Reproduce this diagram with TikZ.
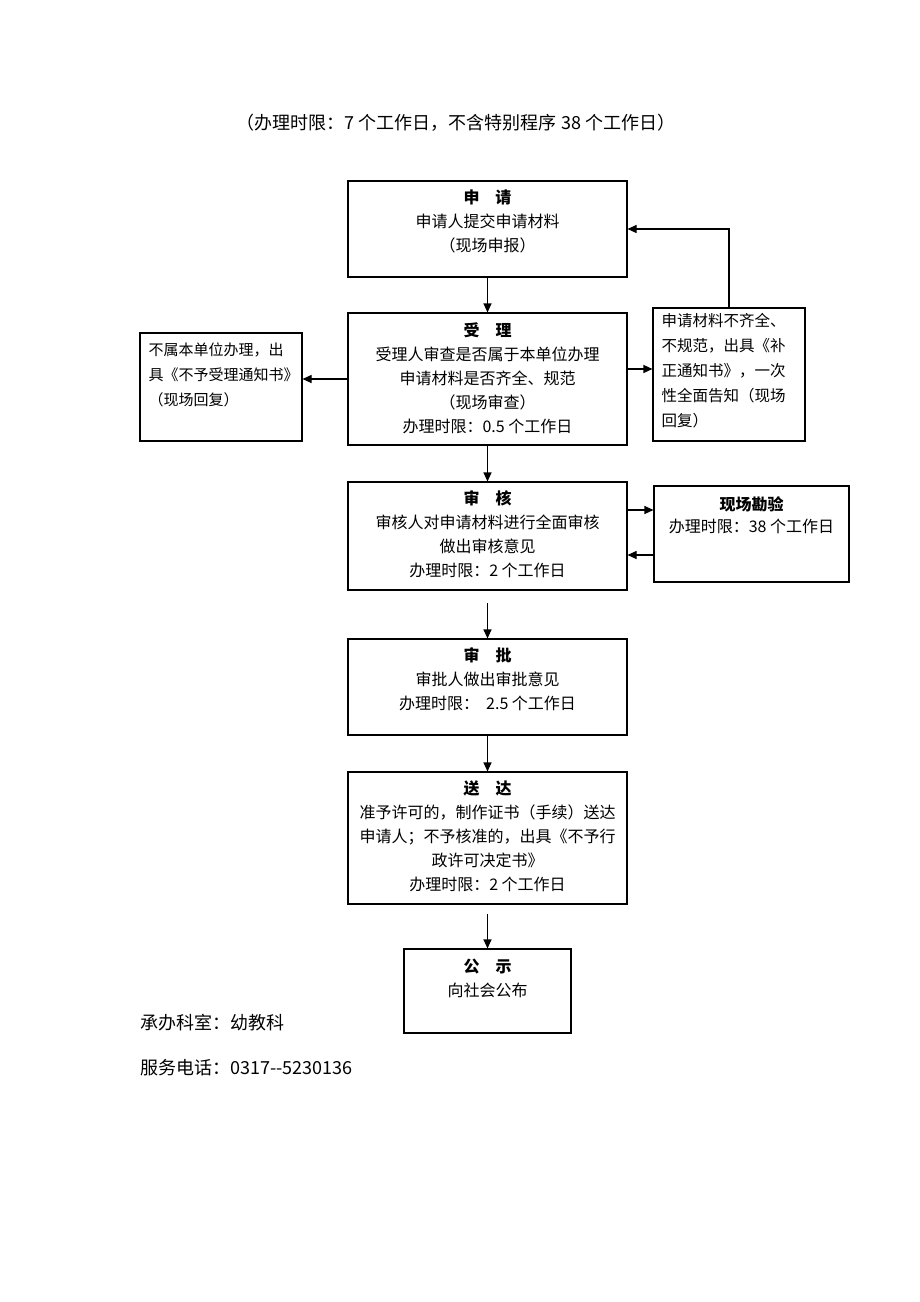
\documentclass[tikz,border=0pt]{standalone}
\usepackage{fontspec}
\newfontfamily\cjk{Noto Sans CJK SC}
\usetikzlibrary{arrows.meta,calc}
\begin{document}
\begin{tikzpicture}[x=1pt,y=-1pt,
  box/.style={draw=black, line width=1.1pt, rectangle, inner sep=0pt},
  txt/.style={inner sep=0pt, align=center, anchor=north, font=\cjk\fontsize{16}{24}\selectfont},
  ltxt/.style={inner sep=0pt, align=left, anchor=north west, font=\cjk\fontsize{15.5}{25}\selectfont},
  big/.style={inner sep=0pt, font=\cjk\fontsize{18}{22}\selectfont},
  arr/.style={-{Triangle[length=9pt,width=8pt]}, line width=1.1pt}]
\useasboundingbox[fill=white] (0,0) rectangle (920,1302);

\node[big] (title) at (456,123) {（办理时限：7 个工作日，不含特别程序 38 个工作日）};

\node[box, minimum width=279pt, minimum height=96pt] (sq) at (487.5,229) {};
\node[box, minimum width=279pt, minimum height=132pt] (sl) at (487.5,379) {};
\node[box, minimum width=162pt, minimum height=108pt] (bs) at (221,387) {};
\node[box, minimum width=152pt, minimum height=133pt] (bz) at (729,374.5) {};
\node[box, minimum width=279pt, minimum height=108pt] (sh) at (487.5,536) {};
\node[box, minimum width=195pt, minimum height=96pt] (xc) at (751.5,534) {};
\node[box, minimum width=279pt, minimum height=96pt] (sp) at (487.5,687) {};
\node[box, minimum width=279pt, minimum height=132pt] (sd) at (487.5,838) {};
\node[box, minimum width=167pt, minimum height=84pt] (gs) at (487.5,991) {};

\node[txt] (tsq) at ($(sq.north)+(0,9)$) {{\bfseries 申\quad 请}\\申请人提交申请材料\\（现场申报）};
\node[txt] (tsl) at ($(sl.north)+(0,10)$) {{\bfseries 受\quad 理}\\受理人审查是否属于本单位办理\\申请材料是否齐全、规范\\（现场审查）\\办理时限：0.5 个工作日};
\node[ltxt, font=\cjk\fontsize{15}{25}\selectfont] (tbs) at ($(bs.north west)+(9,10)$) {不属本单位办理，出\\具《不予受理通知书》\\（现场回复）};
\node[ltxt] (tbz) at ($(bz.north west)+(9,6)$) {申请材料不齐全、\\不规范，出具《补\\正通知书》，一次\\性全面告知（现场\\回复）};
\node[txt] (tsh) at ($(sh.north)+(0,9)$) {{\bfseries 审\quad 核}\\审核人对申请材料进行全面审核\\做出审核意见\\办理时限：2 个工作日};
\node[txt, font=\cjk\fontsize{16}{22}\selectfont] (txc) at ($(xc.north)+(0,11)$) {{\bfseries 现场勘验}\\办理时限：38 个工作日};
\node[txt] (tsp) at ($(sp.north)+(0,9)$) {{\bfseries 审\quad 批}\\审批人做出审批意见\\办理时限：\ \ 2.5 个工作日};
\node[txt] (tsd) at ($(sd.north)+(0,9)$) {{\bfseries 送\quad 达}\\准予许可的，制作证书（手续）送达\\申请人；不予核准的，出具《不予行\\政许可决定书》\\办理时限：2 个工作日};
\node[txt] (tgs) at ($(gs.north)+(0,10)$) {{\bfseries 公\quad 示}\\向社会公布};

\node[big, anchor=west] (cb) at (140,1023) {承办科室：幼教科};
\node[big, anchor=west] (fw) at (140,1068) {服务电话：0317--5230136};

\coordinate (a1) at (487.5,603);
\coordinate (a2) at (487.5,914);
\coordinate (r1) at ($(sl.east)+(0,-10)$);
\coordinate (r2) at ($(sh.east)+(0,-26)$);
\coordinate (r3) at ($(sh.east)+(0,19)$);
\draw[arr] (sq.south) -- (sl.north);
\draw[arr] (sl.south) -- (sh.north);
\draw[arr] (a1) -- (sp.north);
\draw[arr] (sp.south) -- (sd.north);
\draw[arr] (a2) -- (gs.north);
\draw[arr] (sl.west) -- (sl.west -| bs.east);
\draw[arr] (r1) -- (r1 -| bz.west);
\draw[arr] (bz.north) |- (sq.east);
\draw[arr] (r2) -- (r2 -| xc.west);
\draw[arr] (r3 -| xc.west) -- (r3);
\end{tikzpicture}
\end{document}
